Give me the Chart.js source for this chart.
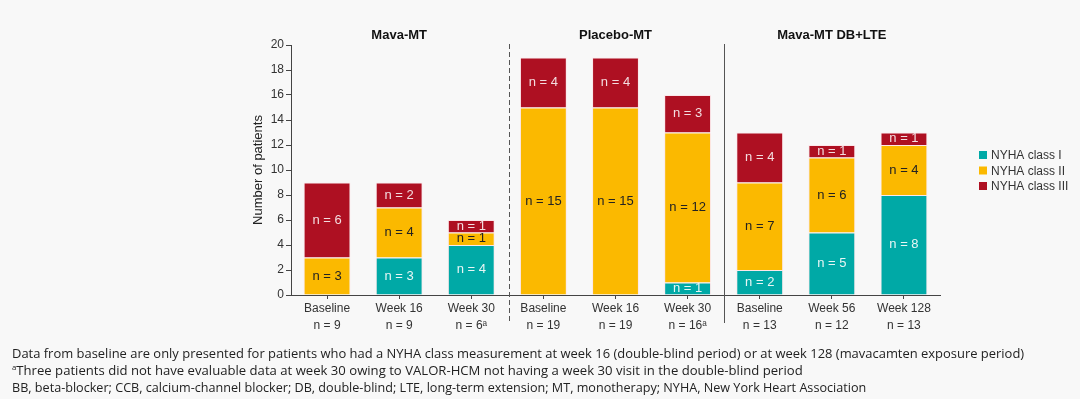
<!DOCTYPE html>
<html>
<head>
<meta charset="utf-8">
<script src="https://cdn.jsdelivr.net/npm/chart.js@4"></script>
<style>
  html, body { margin: 0; padding: 0; background: #f8f8f8; }
  #wrap { position: relative; width: 1080px; height: 399px; overflow: hidden; }
  #c { position: absolute; left: 0; top: 0; }
  .note { position: absolute; left: 12px; font-family: "Open Sans", sans-serif; font-size: 13.5px; color: #222; white-space: nowrap; transform-origin: 0 0; }
  .note sup { font-size: 8px; vertical-align: 5px; }
</style>
</head>
<body>
<div id="wrap">
  <canvas id="c" width="1080" height="399"></canvas>
  <div class="note" id="n1" style="top:344px" data-w="1012">Data from baseline are only presented for patients who had a NYHA class measurement at week 16 (double-blind period) or at week 128 (mavacamten exposure period)</div>
  <div class="note" id="n2" style="top:361px" data-w="791"><sup>a</sup>Three patients did not have evaluable data at week 30 owing to VALOR-HCM not having a week 30 visit in the double-blind period</div>
  <div class="note" id="n3" style="top:378px" data-w="854">BB, beta-blocker; CCB, calcium-channel blocker; DB, double-blind; LTE, long-term extension; MT, monotherapy; NYHA, New York Heart Association</div>
</div>
<script>
// данные
const visits = ['Baseline', 'Week 16', 'Week 30', 'Baseline', 'Week 16', 'Week 30', 'Baseline', 'Week 56', 'Week 128']
const totals = ['n = 9', 'n = 9', 'n = 6ᵃ', 'n = 19', 'n = 19', 'n = 16ᵃ', 'n = 13', 'n = 12', 'n = 13']
const groups = ['Mava-MT', 'Placebo-MT', 'Mava-MT DB+LTE']
const classI = [0, 3, 4, 0, 0, 1, 2, 5, 8]
const classII = [3, 4, 1, 15, 15, 12, 7, 6, 4]
const classIII = [6, 2, 1, 4, 4, 3, 4, 1, 1]
const yTicks = [0, 2, 4, 6, 8, 10, 12, 14, 16, 18, 20]

const teal = '#00a9a6'
const gold = '#fbb900'
const red = '#ae1022'

// подписи n = X внутри сегментов
const segLabels = {
    id: 'segLabels',
    afterDatasetsDraw(chart) {
        const ctx = chart.ctx
        ctx.save()
        ctx.font = '13px Arial, "Liberation Sans", sans-serif'
        ctx.textAlign = 'center'
        ctx.textBaseline = 'middle'
        chart.data.datasets.forEach((ds, i) => {
            chart.getDatasetMeta(i).data.forEach((bar, j) => {
                const v = ds.data[j]
                if (!v) return
                ctx.fillStyle = ds.textColor
                ctx.fillText('n = ' + v, bar.x, (bar.y + bar.base) / 2)
            })
        })
        ctx.restore()
    }
}

// заголовки групп, разделители, легенда
const decor = {
    id: 'decor',
    afterDraw(chart) {
        const ctx = chart.ctx
        const x = chart.scales.x
        const top = chart.chartArea.top
        ctx.save()
        ctx.font = 'bold 13px Arial, "Liberation Sans", sans-serif'
        ctx.fillStyle = '#111'
        ctx.textAlign = 'center'
        ctx.textBaseline = 'middle'
        groups.forEach((g, k) => {
            ctx.fillText(g, x.getPixelForValue(k * 3 + 1), 35)
        })
        // разделители
        ctx.strokeStyle = '#555'
        ctx.lineWidth = 1
        let px = Math.round(x.getPixelForValue(2) + 38) + 0.5
        ctx.setLineDash([5, 3])
        ctx.beginPath(); ctx.moveTo(px, top - 1); ctx.lineTo(px, 323); ctx.stroke()
        px = Math.round((x.getPixelForValue(5) + x.getPixelForValue(6)) / 2) + 0.5
        ctx.setLineDash([])
        ctx.beginPath(); ctx.moveTo(px, top - 1); ctx.lineTo(px, 323); ctx.stroke()
        // легенда
        ctx.font = '12px Arial, "Liberation Sans", sans-serif'
        ctx.textAlign = 'left'
        chart.data.datasets.forEach((ds, i) => {
            const y = 155 + i * 15.5
            ctx.fillStyle = ds.backgroundColor
            ctx.fillRect(979, y - 4, 8, 8)
            ctx.fillStyle = '#333'
            ctx.fillText(ds.label, 991, y + 1)
        })
        ctx.restore()
    }
}

new Chart(document.getElementById('c'), {
    type: 'bar',
    data: {
        labels: visits.map((v, i) => [v, totals[i]]),
        datasets: [
            { label: 'NYHA class I', data: classI, backgroundColor: teal, textColor: '#e8f6f5' },
            { label: 'NYHA class II', data: classII, backgroundColor: gold, textColor: '#222' },
            { label: 'NYHA class III', data: classIII, backgroundColor: red, textColor: '#f3dde0' },
        ].map(d => Object.assign(d, { borderColor: 'rgba(255,220,225,0.6)', borderWidth: 1, categoryPercentage: 1, barPercentage: 0.65 }))
    },
    options: {
        responsive: false,
        animation: false,
        layout: { padding: { left: 251, right: 140, top: 45, bottom: 64 } },
        plugins: { legend: { display: false }, tooltip: { enabled: false } },
        scales: {
            x: {
                stacked: true,
                afterFit: s => { s.height = 40 },
                grid: { display: true, drawOnChartArea: false, offset: false, tickLength: 4, color: '#444' },
                border: { color: '#444', width: 1 },
                ticks: { color: '#333', font: { size: 12, family: 'Arial, "Liberation Sans", sans-serif', lineHeight: 1.35 }, padding: 2, maxRotation: 0, autoSkip: false }
            },
            y: {
                stacked: true,
                min: 0,
                max: 20,
                afterFit: s => { s.width = 40 },
                afterBuildTicks: s => { s.ticks = yTicks.map(v => ({ value: v })) },
                grid: { display: true, drawOnChartArea: false, tickLength: 5, color: '#444' },
                border: { color: '#444', width: 1 },
                ticks: { color: '#333', font: { size: 12, family: 'Arial, "Liberation Sans", sans-serif' }, padding: 2 },
                title: { display: true, text: 'Number of patients', color: '#222', font: { size: 13, family: 'Arial, "Liberation Sans", sans-serif' }, padding: 0 }
            }
        }
    },
    plugins: [segLabels, decor]
})

// подгонка ширины сносок
document.querySelectorAll('.note').forEach(el => {
    const w = +el.dataset.w
    el.style.transform = 'scaleX(' + (w / el.offsetWidth) + ')'
})
</script>
</body>
</html>
